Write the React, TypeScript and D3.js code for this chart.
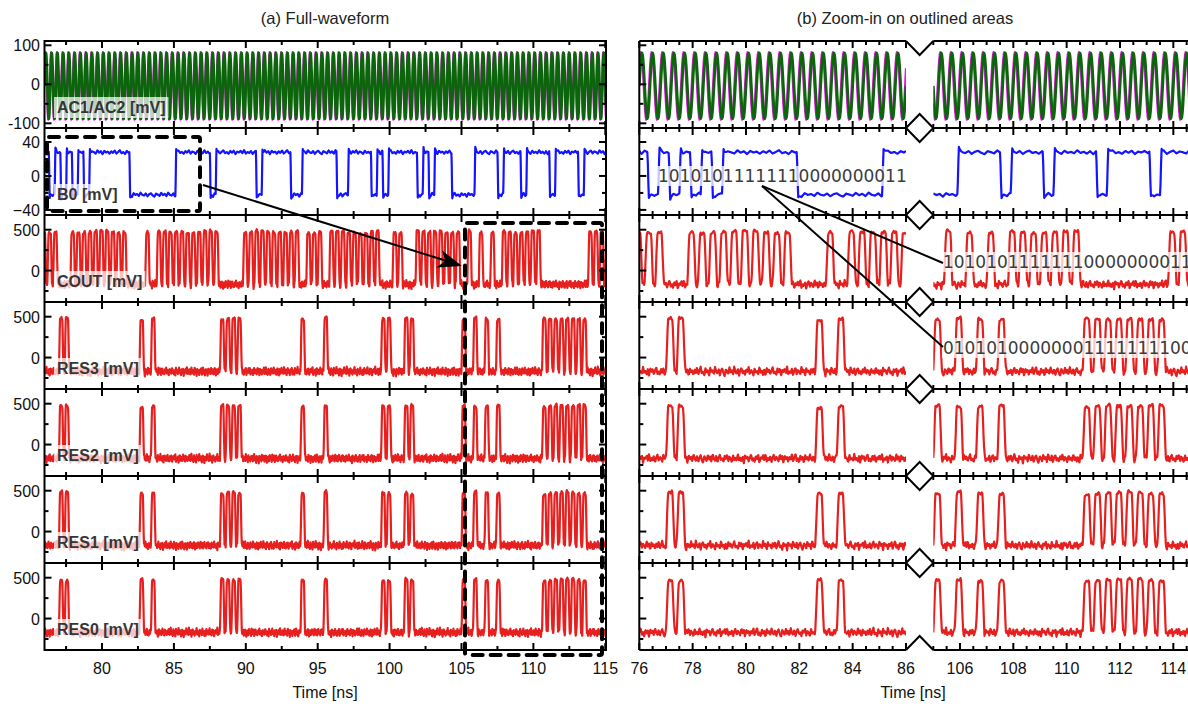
import React, { useMemo } from "react";
import * as d3 from "d3";

// ------------------------- data -------------------------
const BIT_NS = 0.4; // bit period
const B0_START_NS = 75.9;
const B0_BITS =
  "10101010" + "1111111" + "00000000" + "111111" + "0" + "1111111" + "0" + "11111" + "00" +
  "111111" + "00" + "1111" + "0" + "1" + "0" + "11111" + "0" + "1" + "0" + "111" + "0000" +
  "1111" + "0" + "111" + "0" + "1111" + "0" + "1111" + "0" + "11111";
const COUT_START_NS = 75.76;
const COUT_BITS =
  "111" + "00" + "1111111111" + "000" + "1" + "0" + "11111111111" + "0000" + "1111111111" + "0" +
  "111" + "0" + "111111111" + "00" + "11" + "00" + "11111111" + "0" + "1010101111111" + "00000000" +
  "11" + "11";
const RES3_BITS =
  "000" + "11" + "000000000000" + "1" + "0" + "1" + "00000000000" + "1111" + "0000000000" + "1" +
  "000" + "1" + "000000000" + "11" + "00" + "11" + "00000000" + "1" + "0101010000000" + "11111111" +
  "00" + "00";
const RES2_BITS = RES3_BITS;
const RES1_BITS = RES3_BITS;
const RES0_BITS = RES3_BITS;

const AC_PERIOD_NS = 0.4;
const AC1_PARAMS = { offset: -4, amp: 84, phase: 0.0 };
const AC2_PARAMS = { offset: -4, amp: 87, phase: -0.035 };
const B0_LEVELS = [-22, 28];
const RZ_LEVELS = [-170, 470];
const NOISE = [
  0.42, -0.31, 0.77, -0.65, 0.12, 0.93, -0.48, 0.05, -0.86, 0.61, -0.22, 0.34, -0.97, 0.71, -0.14,
  0.28, -0.59, 0.88, -0.07, -0.42, 0.53, -0.76, 0.19, 0.64, -0.33, -0.91, 0.47, 0.02, -0.55, 0.81,
  -0.26, 0.37, -0.69, 0.95, -0.11, -0.44, 0.58, -0.83, 0.24, 0.69, -0.38, 0.09, -0.72, 0.49, -0.17,
  0.85, -0.61, 0.31, -0.04, -0.79, 0.66, -0.29, 0.14, -0.52, 0.9, -0.36, 0.21, -0.68, 0.44, -0.95,
  0.73, -0.09, 0.39, -0.57, 0.16, 0.82, -0.47, 0.03, -0.74, 0.55, -0.24, 0.67, -0.88, 0.27, -0.13,
  0.6, -0.41, 0.97, -0.66, 0.08, -0.35, 0.5, -0.81, 0.18, 0.74, -0.53, 0.33, -0.02, -0.63, 0.87,
  -0.2, 0.45, -0.9, 0.62, -0.15, 0.26, -0.7,
];

const ROW_LABELS = ["AC1/AC2 [mV]", "B0 [mV]", "COUT [mV]", "RES3 [mV]", "RES2 [mV]", "RES1 [mV]", "RES0 [mV]"];
const AC_DOMAIN = [-112, 111];
const B0_DOMAIN = [-46, 56.5];
const RZ_DOMAIN = [-385, 680];
const AC_TICKS = [100, 0, -100];
const AC_TICK_LABELS = ["100", "0", "-100"];
const AC_MINOR = [50, -50];
const B0_TICKS = [40, 0, -40];
const B0_TICK_LABELS = ["40", "0", "\u221240"];
const B0_MINOR = [20, -20];
const RZ_TICKS = [500, 0];
const RZ_TICK_LABELS = ["500", "0"];
const RZ_MINOR = [250, -250];

const LEFT_X_TICKS = [80, 85, 90, 95, 100, 105, 110, 115];
const LEFT_X_MINOR = [77.5, 82.5, 87.5, 92.5, 97.5, 102.5, 107.5, 112.5];
const SEG1_X_TICKS = [76, 78, 80, 82, 84, 86];
const SEG2_X_TICKS = [106, 108, 110, 112, 114];

const BIT_TEXT_B0 = "10101011111110000000011";
const BIT_TEXT_COUT = "10101011111110000000011";
const BIT_TEXT_RES3 = "01010100000001111111100";

// ------------------------- layout -------------------------
const W = 1188;
const H = 706;
const TOP = 41;
const ROW_H = 87;
const NROWS = 7;
const BOTTOM = TOP + ROW_H * NROWS;
const LEFT = { x0: 44.5, x1: 606, d0: 76, d1: 115.05 };
const SEG1 = { x0: 639.3, x1: 906, d0: 76, d1: 86 };
const SEG2 = { x0: 933.3, x1: 1200, d0: 105, d1: 115 };
const STEP = 0.02;
const RED = "#e6201f";
const BLUE = "#1414ff";
const GREEN = "#0c640c";
const MAGENTA = "#f010f0";
const FONT = "'Liberation Sans', Arial, Helvetica, sans-serif";

const smooth = (x: number) => (x <= 0 ? 0 : x >= 1 ? 1 : x * x * (3 - 2 * x));
const L = NOISE.length;
function noiseAt(t: number, knot: number, off: number) {
  const x = t / knot + off;
  const i = Math.floor(x);
  const f = x - i;
  const a = NOISE[((i % L) + L) % L];
  const b = NOISE[(((i + 1) % L) + L) % L];
  return a + (b - a) * f;
}
const bitAt = (bits: string, j: number) => (j >= 0 && j < bits.length && bits[j] === "1" ? 1 : 0);

function rz(bits: string, start: number, off: number) {
  return (t: number) => {
    const x = (t - start) / BIT_NS;
    const j = Math.floor(x);
    const u = (x - j) * BIT_NS;
    const b = bitAt(bits, j);
    const p = b * (smooth((u - 0.03) / 0.1) - smooth((u - 0.27) / 0.1));
    const n = noiseAt(t, 0.045, off);
    const n2 = noiseAt(t, 0.9, off + 13);
    return RZ_LEVELS[0] + (RZ_LEVELS[1] - RZ_LEVELS[0]) * p + n * (62 - 38 * p) + n2 * 25 * p;
  };
}
function nrz(bits: string, start: number) {
  return (t: number) => {
    const x = (t - start) / BIT_NS;
    const j = Math.floor(x);
    const u = (x - j) * BIT_NS;
    const b = bitAt(bits, j);
    const pb = bitAt(bits, j - 1);
    const lvl = pb + (b - pb) * smooth(u / 0.06);
    const os = u > 0.04 ? (b - pb) * 6 * Math.exp(-(u - 0.04) / 0.05) : 0;
    return B0_LEVELS[0] + (B0_LEVELS[1] - B0_LEVELS[0]) * lvl + os + noiseAt(t, 0.12, 7) * 2.5;
  };
}
function ac(p: { offset: number; amp: number; phase: number }) {
  return (t: number) => p.offset + p.amp * Math.sin((2 * Math.PI * (t - p.phase)) / AC_PERIOD_NS);
}

type Sig = { fn: (t: number) => number; color: string; w: number };

function pathFor(fn: (t: number) => number, seg: typeof LEFT, ys: d3.ScaleLinear<number, number>) {
  const xs = d3.scaleLinear().domain([seg.d0, seg.d1]).range([seg.x0, seg.x1]);
  const n = Math.round((seg.d1 - seg.d0) / STEP);
  const pts: [number, number][] = d3.range(n + 1).map((i) => {
    const t = seg.d0 + i * STEP;
    return [t, fn(t)];
  });
  return d3
    .line<[number, number]>()
    .x((d) => xs(d[0]))
    .y((d) => ys(d[1]))(pts) as string;
}

function textWidth(s: string, font: string) {
  if (typeof document === "undefined") return s.length * 9;
  const c = document.createElement("canvas").getContext("2d");
  if (!c) return s.length * 9;
  c.font = font;
  return c.measureText(s).width;
}

export default function App() {
  const rows = useMemo(() => {
    const sigs: Sig[][] = [
      [
        { fn: ac(AC2_PARAMS), color: MAGENTA, w: 2.2 },
        { fn: ac(AC1_PARAMS), color: GREEN, w: 2.8 },
      ],
      [{ fn: nrz(B0_BITS, B0_START_NS), color: BLUE, w: 2.2 }],
      [{ fn: rz(COUT_BITS, COUT_START_NS, 0), color: RED, w: 2.2 }],
      [{ fn: rz(RES3_BITS, COUT_START_NS, 11), color: RED, w: 2.2 }],
      [{ fn: rz(RES2_BITS, COUT_START_NS, 29), color: RED, w: 2.2 }],
      [{ fn: rz(RES1_BITS, COUT_START_NS, 43), color: RED, w: 2.2 }],
      [{ fn: rz(RES0_BITS, COUT_START_NS, 61), color: RED, w: 2.2 }],
    ];
    return ROW_LABELS.map((label, r) => {
      const y0 = TOP + r * ROW_H;
      const y1 = y0 + ROW_H;
      const domain = r === 0 ? AC_DOMAIN : r === 1 ? B0_DOMAIN : RZ_DOMAIN;
      const ticks = r === 0 ? AC_TICKS : r === 1 ? B0_TICKS : RZ_TICKS;
      const tickLabels = r === 0 ? AC_TICK_LABELS : r === 1 ? B0_TICK_LABELS : RZ_TICK_LABELS;
      const minor = r === 0 ? AC_MINOR : r === 1 ? B0_MINOR : RZ_MINOR;
      const ys = d3.scaleLinear().domain(domain).range([y1, y0]);
      const paths = sigs[r].map((s) => ({
        color: s.color,
        w: s.w,
        left: pathFor(s.fn, LEFT, ys),
        s1: pathFor(s.fn, SEG1, ys),
        s2: pathFor(s.fn, SEG2, ys),
      }));
      return { label, y0, y1, ys, ticks, tickLabels, minor, paths };
    });
  }, []);

  const xl = d3.scaleLinear().domain([LEFT.d0, LEFT.d1]).range([LEFT.x0, LEFT.x1]);
  const x1s = d3.scaleLinear().domain([SEG1.d0, SEG1.d1]).range([SEG1.x0, SEG1.x1]);
  const x2s = d3.scaleLinear().domain([SEG2.d0, SEG2.d1]).range([SEG2.x0, SEG2.x1]);
  const seg1Minor = d3.range(76.5, 86, 0.5).filter((v) => Math.abs(v / 2 - Math.round(v / 2)) > 0.01);
  const seg2Minor = d3.range(105, 115, 0.5).filter((v) => Math.abs(v / 2 - Math.round(v / 2)) > 0.01);

  const labelFont = `bold 16px ${FONT}`;
  const bitFont = "17px 'DejaVu Sans'";
  const MAJ = 7;
  const MIN = 4;
  const boundaries = d3.range(NROWS + 1).map((i) => TOP + i * ROW_H);

  const xTickLines = (xs: (v: number) => number, maj: number[], mn: number[], key: string) => (
    <g key={key}>
      {rows.map((row, r) => (
        <g key={r}>
          {maj.map((v) => (
            <g key={"M" + v}>
              <line x1={xs(v)} x2={xs(v)} y1={row.y0} y2={row.y0 + MAJ} />
              <line x1={xs(v)} x2={xs(v)} y1={row.y1} y2={row.y1 - MAJ} />
            </g>
          ))}
          {mn.map((v) => (
            <g key={"m" + v}>
              <line x1={xs(v)} x2={xs(v)} y1={row.y0} y2={row.y0 + MIN} />
              <line x1={xs(v)} x2={xs(v)} y1={row.y1} y2={row.y1 - MIN} />
            </g>
          ))}
        </g>
      ))}
    </g>
  );

  const bitBox = (text: string, x: number, cy: number, key: string) => {
    const w = textWidth(text, bitFont);
    return (
      <g key={key}>
        <rect x={x - 1} y={cy - 10} width={w + 2} height={20} fill="#fff" fillOpacity={0.75} />
        <text x={x} y={cy + 6} fontFamily="'DejaVu Sans', sans-serif" fontSize={17} fill="#3c3c3c">
          {text}
        </text>
      </g>
    );
  };

  const arrowHead = (x0: number, y0: number, x1: number, y1: number) => {
    const a = Math.atan2(y1 - y0, x1 - x0);
    const len = 24;
    const hw = 9;
    const bx = x1 - len * Math.cos(a);
    const by = y1 - len * Math.sin(a);
    const nx = -Math.sin(a);
    const ny = Math.cos(a);
    const mx = x1 - len * 0.72 * Math.cos(a);
    const my = y1 - len * 0.72 * Math.sin(a);
    return `M${x1},${y1} L${bx + nx * hw},${by + ny * hw} L${mx},${my} L${bx - nx * hw},${by - ny * hw} Z`;
  };

  return (
    <svg
      width={W}
      height={H}
      style={{ position: "absolute", left: 0, top: 0, background: "#fff" }}
      fontFamily={FONT}
    >
      <defs>
        <clipPath id="cl">
          <rect x={LEFT.x0} y={TOP} width={LEFT.x1 - LEFT.x0} height={BOTTOM - TOP} />
        </clipPath>
        <clipPath id="c1">
          <rect x={SEG1.x0} y={TOP} width={SEG1.x1 - SEG1.x0} height={BOTTOM - TOP} />
        </clipPath>
        <clipPath id="c2">
          <rect x={SEG2.x0} y={TOP} width={SEG2.x1 - SEG2.x0} height={BOTTOM - TOP} />
        </clipPath>
      </defs>

      {/* titles */}
      <text x={325} y={24} textAnchor="middle" fontSize={16.5} fill="#222">
        (a) Full-waveform
      </text>
      <text x={905} y={24} textAnchor="middle" fontSize={16.5} fill="#222">
        (b) Zoom-in on outlined areas
      </text>

      {/* signals */}
      {rows.map((row, r) => (
        <g key={"sig" + r} fill="none" strokeLinejoin="round">
          {row.paths.map((p, k) => (
            <g key={k} stroke={p.color} strokeWidth={p.w}>
              <path d={p.left} clipPath="url(#cl)" />
              <path d={p.s1} clipPath="url(#c1)" />
              <path d={p.s2} clipPath="url(#c2)" />
            </g>
          ))}
        </g>
      ))}

      {/* frames */}
      <g stroke="#000" strokeWidth={2} fill="none">
        <rect x={LEFT.x0} y={TOP} width={LEFT.x1 - LEFT.x0} height={BOTTOM - TOP} />
        {boundaries.slice(1, -1).map((y) => (
          <line key={"lb" + y} x1={LEFT.x0} x2={LEFT.x1} y1={y} y2={y} />
        ))}
        <line x1={SEG1.x0} x2={SEG1.x0} y1={TOP} y2={BOTTOM} />
        {boundaries.map((y) => (
          <g key={"rb" + y}>
            <line x1={SEG1.x0} x2={SEG1.x1} y1={y} y2={y} />
            <line x1={SEG2.x0} x2={SEG2.x1} y1={y} y2={y} />
          </g>
        ))}
        {boundaries.map((y, i) => {
          const cx = (SEG1.x1 + SEG2.x0) / 2;
          const hw = (SEG2.x0 - SEG1.x1) / 2;
          if (i === 0)
            return <path key={"bk" + i} d={`M${SEG1.x1},${y} L${cx},${y + 14} L${SEG2.x0},${y}`} />;
          if (i === NROWS)
            return <path key={"bk" + i} d={`M${SEG1.x1},${y} L${cx},${y - 14} L${SEG2.x0},${y}`} />;
          return (
            <path
              key={"bk" + i}
              d={`M${cx - hw},${y} L${cx},${y - 14} L${cx + hw},${y} L${cx},${y + 14} Z`}
              fill="#fff"
            />
          );
        })}
      </g>

      {/* ticks */}
      <g stroke="#000" strokeWidth={2}>
        {xTickLines(xl, LEFT_X_TICKS, LEFT_X_MINOR, "tl")}
        {xTickLines(x1s, SEG1_X_TICKS, seg1Minor, "t1")}
        {xTickLines(x2s, SEG2_X_TICKS, seg2Minor, "t2")}
        {rows.map((row, r) => (
          <g key={"yt" + r}>
            {row.ticks.map((v) => (
              <g key={"M" + v}>
                <line x1={LEFT.x0} x2={LEFT.x0 + MAJ} y1={row.ys(v)} y2={row.ys(v)} />
                <line x1={LEFT.x1} x2={LEFT.x1 - MAJ} y1={row.ys(v)} y2={row.ys(v)} />
                <line x1={SEG1.x0} x2={SEG1.x0 + MAJ} y1={row.ys(v)} y2={row.ys(v)} />
              </g>
            ))}
            {row.minor.map((v) => (
              <g key={"m" + v}>
                <line x1={LEFT.x0} x2={LEFT.x0 + MIN} y1={row.ys(v)} y2={row.ys(v)} />
                <line x1={LEFT.x1} x2={LEFT.x1 - MIN} y1={row.ys(v)} y2={row.ys(v)} />
                <line x1={SEG1.x0} x2={SEG1.x0 + MIN} y1={row.ys(v)} y2={row.ys(v)} />
              </g>
            ))}
          </g>
        ))}
      </g>

      {/* y tick labels */}
      <g fontSize={16} fill="#111" textAnchor="end">
        {rows.map((row, r) =>
          row.ticks.map((v, k) => (
            <text key={r + "-" + k} x={40} y={row.ys(v) + 6}>
              {row.tickLabels[k]}
            </text>
          ))
        )}
      </g>

      {/* x tick labels */}
      <g fontSize={16} fill="#111" textAnchor="middle">
        {LEFT_X_TICKS.map((v) => (
          <text key={"xl" + v} x={xl(v)} y={674}>
            {v}
          </text>
        ))}
        {SEG1_X_TICKS.map((v) => (
          <text key={"x1" + v} x={x1s(v)} y={674}>
            {v}
          </text>
        ))}
        {SEG2_X_TICKS.map((v) => (
          <text key={"x2" + v} x={x2s(v)} y={674}>
            {v}
          </text>
        ))}
        <text x={325} y={698}>
          Time [ns]
        </text>
        <text x={913} y={698}>
          Time [ns]
        </text>
      </g>

      {/* row labels */}
      {rows.map((row, r) => {
        const w = textWidth(row.label, labelFont);
        return (
          <g key={"lab" + r}>
            <rect x={54} y={row.y1 - 31} width={w + 6} height={21} fill="#fff" fillOpacity={0.72} />
            <text x={57} y={row.y1 - 15} fontSize={16} fontWeight="bold" fill="#363636">
              {row.label}
            </text>
          </g>
        );
      })}

      {/* bit strings */}
      {bitBox(BIT_TEXT_B0, x1s(B0_START_NS + 2 * BIT_NS), 176, "bt0")}
      {bitBox(BIT_TEXT_COUT, x2s(COUT_START_NS + 74 * BIT_NS), rows[2].y0 + 47, "bt1")}
      {bitBox(BIT_TEXT_RES3, x2s(COUT_START_NS + 74 * BIT_NS), rows[3].y0 + 46, "bt2")}

      {/* outlines & arrows */}
      <g fill="none" stroke="#000" strokeWidth={4} strokeDasharray="10 8" strokeLinecap="round">
        <rect x={47} y={137} width={153} height={74} rx={2} />
        <rect x={465} y={223} width={137} height={432} rx={2} />
      </g>
      <g stroke="#000" strokeWidth={2} fill="none">
        <line x1={203} y1={185} x2={450} y2={262} />
        <line x1={762} y1={186} x2={943} y2={263} />
        <line x1={762} y1={186} x2={943} y2={347} />
      </g>
      <path d={arrowHead(203, 185, 462, 266)} fill="#000" />
    </svg>
  );
}
